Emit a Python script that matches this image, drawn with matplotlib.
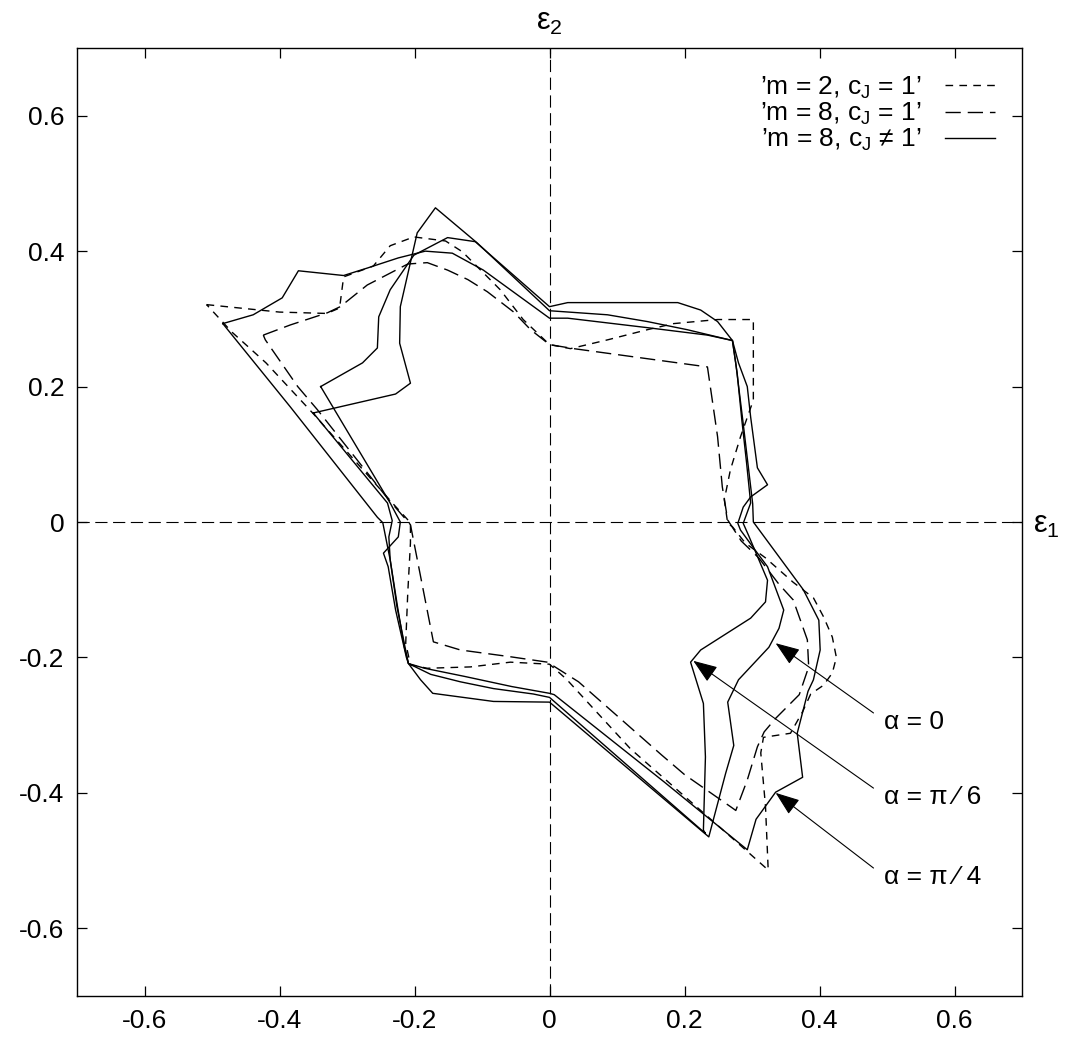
import matplotlib
matplotlib.use("Agg")
import matplotlib.pyplot as plt

plt.rcParams['font.family'] = ['Liberation Sans', 'DejaVu Sans']
plt.rcParams['mathtext.fontset'] = 'custom'
plt.rcParams['mathtext.rm'] = 'Liberation Sans'
plt.rcParams['mathtext.it'] = 'Liberation Sans:italic'

# ---- data (eps1, eps2) ----
# m = 2, cJ = 1
sd_x = [-0.508, -0.40, -0.33, -0.311, -0.305, -0.261, -0.236, -0.201, -0.154, -0.129, -0.073, -0.039,
        0.0, 0.031, 0.086, 0.145, 0.184, 0.249, 0.302, 0.302, 0.283, 0.268, 0.259, 0.264, 0.271, 0.29,
        0.32, 0.361, 0.391, 0.406, 0.419, 0.425, 0.419, 0.406, 0.387, 0.375, 0.357, 0.317, 0.313, 0.32,
        0.324, 0.28, 0.2, 0.12, 0.06, 0.025, 0.0, -0.058, -0.117, -0.181, -0.206, -0.213, -0.21, -0.206,
        -0.206, -0.23, -0.27, -0.35, -0.42, -0.47, -0.508]
sd_y = [0.321, 0.310, 0.308, 0.316, 0.362, 0.378, 0.408, 0.421, 0.415, 0.399, 0.343, 0.299,
        0.262, 0.256, 0.269, 0.284, 0.293, 0.299, 0.299, 0.18, 0.126, 0.077, 0.033, -0.002, -0.007, -0.031,
        -0.053, -0.089, -0.112, -0.14, -0.17, -0.2, -0.223, -0.241, -0.254, -0.28, -0.312, -0.318, -0.341, -0.42,
        -0.514, -0.475, -0.405, -0.335, -0.27, -0.232, -0.21, -0.207, -0.214, -0.216, -0.211, -0.179, -0.105, -0.031,
        -0.001, 0.025, 0.07, 0.16, 0.235, 0.28, 0.321]

# m = 8, cJ = 1
ld_x = [-0.424, -0.384, -0.329, -0.31, -0.27, -0.21, -0.181, -0.151, -0.121, -0.092, -0.053, -0.028,
        0.0, 0.036, 0.234, 0.249, 0.256, 0.264, 0.284, 0.31, 0.34, 0.361, 0.382, 0.384, 0.37, 0.335,
        0.318, 0.308, 0.293, 0.276, 0.269, 0.2, 0.166, 0.043, -0.003, -0.058, -0.132, -0.172, -0.206,
        -0.24, -0.344, -0.373, -0.421, -0.424]
ld_y = [0.276, 0.291, 0.309, 0.318, 0.35, 0.381, 0.383, 0.372, 0.358, 0.34, 0.31, 0.284,
        0.262, 0.256, 0.229, 0.126, 0.052, 0.003, -0.028, -0.053, -0.092, -0.115, -0.174, -0.214, -0.255, -0.29,
        -0.31, -0.332, -0.381, -0.426, -0.421, -0.373, -0.344, -0.236, -0.207, -0.199, -0.189, -0.177, -0.004,
        0.035, 0.166, 0.2, 0.269, 0.276]

# m = 8, cJ != 1, alpha = pi/4
s1_x = [-0.484, -0.439, -0.396, -0.372, -0.305, -0.27, -0.224, -0.184, -0.144, -0.098, 0.0, 0.027,
        0.086, 0.145, 0.234, 0.271, 0.276, 0.287, 0.294, 0.301, 0.302, 0.376, 0.399, 0.401, 0.391, 0.383,
        0.367, 0.375, 0.335, 0.306, 0.293, 0.17, 0.007, 0.0, -0.056, -0.126, -0.185, -0.209, -0.215,
        -0.225, -0.236, -0.247, -0.255, -0.384, -0.484]
s1_y = [0.293, 0.306, 0.331, 0.371, 0.364, 0.375, 0.39, 0.4, 0.397, 0.372, 0.301, 0.301,
        0.294, 0.287, 0.276, 0.268, 0.234, 0.145, 0.086, 0.027, 0.0, -0.1, -0.145, -0.189, -0.233, -0.25,
        -0.312, -0.377, -0.399, -0.439, -0.484, -0.384, -0.255, -0.253, -0.243, -0.228, -0.216, -0.209, -0.185,
        -0.126, -0.056, -0.001, 0.007, 0.17, 0.293]

# m = 8, cJ != 1, alpha = pi/6
s2_x = [-0.35, -0.228, -0.206, -0.222, -0.221, -0.196, -0.169, -0.107, 0.0, 0.086, 0.145, 0.204,
        0.271, 0.278, 0.285, 0.292, 0.298, 0.287, 0.295, 0.323, 0.32, 0.298, 0.224, 0.209, 0.228, 0.231,
        0.228, 0.231, 0.0, -0.024, -0.083, -0.132, -0.176, -0.209, -0.213, -0.226, -0.236, -0.238, -0.233,
        -0.24, -0.35]
s2_y = [0.161, 0.189, 0.205, 0.264, 0.318, 0.427, 0.464, 0.412, 0.312, 0.306, 0.296, 0.284,
        0.268, 0.22, 0.15, 0.087, 0.028, -0.002, -0.02, -0.086, -0.118, -0.142, -0.189, -0.207, -0.268, -0.347,
        -0.455, -0.46, -0.259, -0.254, -0.246, -0.236, -0.225, -0.209, -0.19, -0.125, -0.056, -0.022, 0.002,
        0.028, 0.161]

# m = 8, cJ != 1, alpha = 0
s3_x = [-0.339, -0.277, -0.255, -0.253, -0.236, -0.201, -0.151, -0.11, 0.0, 0.027, 0.086, 0.19,
        0.224, 0.249, 0.271, 0.28, 0.293, 0.298, 0.308, 0.323, 0.298, 0.287, 0.279, 0.283, 0.308, 0.323,
        0.347, 0.34, 0.325, 0.28, 0.264, 0.273, 0.261, 0.236, 0.0, -0.083, -0.173, -0.191, -0.209, -0.212,
        -0.228, -0.239, -0.246, -0.224, -0.221, -0.236, -0.339]
s3_y = [0.2, 0.235, 0.257, 0.303, 0.343, 0.394, 0.42, 0.414, 0.318, 0.324, 0.324, 0.324,
        0.313, 0.296, 0.268, 0.235, 0.2, 0.155, 0.08, 0.055, 0.037, 0.022, -0.002, -0.012, -0.046, -0.066,
        -0.13, -0.157, -0.185, -0.233, -0.266, -0.33, -0.371, -0.465, -0.266, -0.265, -0.253, -0.233, -0.209, -0.2,
        -0.13, -0.066, -0.046, -0.022, 0.0, 0.028, 0.2]

legend_labels = ["’m = 2, $\\mathregular{c_J}$ = 1’",
                 "’m = 8, $\\mathregular{c_J}$ = 1’",
                 "’m = 8, $\\mathregular{c_J}$ ≠ 1’"]
tick_values = [-0.6, -0.4, -0.2, 0, 0.2, 0.4, 0.6]
tick_labels = ['-0.6', '-0.4', '-0.2', '0', '0.2', '0.4', '0.6']
alpha_labels = ['α = 0', 'α = π ⁄ 6', 'α = π ⁄ 4']
alpha_tips = [(0.335, -0.179), (0.213, -0.205), (0.335, -0.400)]

# ---- figure ----
fig = plt.figure(figsize=(10.70, 10.45), dpi=100)
ax = fig.add_axes([77/1070, 49/1045, 945/1070, 948/1045])
ax.set_xlim(-0.7, 0.7)
ax.set_ylim(-0.7, 0.7)

short_dash = (0, (5.5, 4.5))
long_dash = (0, (11, 5))
ax.axhline(0, color='black', lw=0.8, ls=long_dash, zorder=1)
ax.axvline(0, color='black', lw=0.8, ls=long_dash, zorder=1)

lw = 1.0
ax.plot(sd_x, sd_y, color='black', lw=lw, ls=short_dash, label=legend_labels[0], zorder=3)
ax.plot(ld_x, ld_y, color='black', lw=lw, ls=long_dash, label=legend_labels[1], zorder=3)
ax.plot(s1_x, s1_y, color='black', lw=lw, ls='-', label=legend_labels[2], zorder=3)
ax.plot(s2_x, s2_y, color='black', lw=lw, ls='-', zorder=3)
ax.plot(s3_x, s3_y, color='black', lw=lw, ls='-', zorder=3)

# arrows with labels
label_x = 0.48
label_ys = [-0.282, -0.393, -0.511]
for txt, tip, ly in zip(alpha_labels, alpha_tips, label_ys):
    ax.annotate('', xy=tip, xytext=(label_x, ly),
                arrowprops=dict(arrowstyle='-|>,head_length=0.75,head_width=0.28',
                                mutation_scale=20, color='black', lw=0.8,
                                shrinkA=0, shrinkB=0), zorder=4)
    ax.text(label_x + 0.015, ly - 0.013, txt, fontsize=19, ha='left', va='center')

ax.set_xticks(tick_values)
ax.set_xticklabels(tick_labels)
ax.set_yticks(tick_values)
ax.set_yticklabels(tick_labels)
ax.tick_params(direction='in', length=7, width=0.9, labelsize=19,
               top=True, right=True, pad=9)
for s in ax.spines.values():
    s.set_linewidth(1.0)

ax.text(0.5, 1.027, '$\\mathregular{ε_2}$', transform=ax.transAxes, fontsize=22,
        ha='center', va='center')
ax.text(1.026, 0.497, '$\\mathregular{ε_1}$', transform=ax.transAxes, fontsize=22,
        ha='center', va='center')

leg = ax.legend(loc='upper right', bbox_to_anchor=(0.9714, 0.972), frameon=False,
                markerfirst=False, fontsize=19, handlelength=1.9, handletextpad=0.87,
                labelspacing=0.0, borderpad=0, borderaxespad=0)
for t in leg.get_texts():
    t.set_ha('right')

fig.savefig('out.png', dpi=100)
